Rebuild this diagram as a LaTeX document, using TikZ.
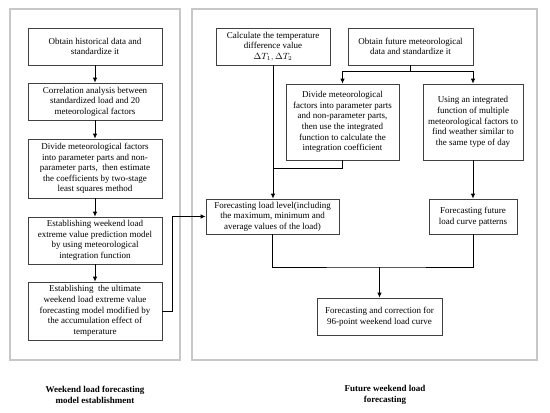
\documentclass[tikz,border=0pt]{standalone}
\usepackage{fontspec}
\setmainfont{Liberation Serif}
\usetikzlibrary{arrows.meta}
\begin{document}
\begin{tikzpicture}[x=1pt,y=-1pt,
  every node/.style={font=\fontsize{9}{10.6}\selectfont},
  box/.style={draw=black!75,line width=0.7pt,align=center,inner sep=0pt,minimum width=#1},
  panel/.style={draw=black!22,line width=1.4pt},
  conn/.style={line width=0.9pt,black},
  arr/.style={conn,-{Latex[length=5pt,width=4.5pt]}},
  captext/.style={align=center,font=\fontsize{9}{10.6}\selectfont\bfseries}]
\useasboundingbox (0,0) rectangle (550,413);
% panels
\draw[panel] (10,9) rectangle (180,360);
\draw[panel] (192,9) rectangle (537,360);
% left boxes
\node[box=134pt,minimum height=37pt] (b1) at (95,46.5) {Obtain historical data and\\standardize it};
\node[box=134pt,minimum height=37pt] (b2) at (95,101.5) {Correlation analysis between\\standardized load and 20\\meteorological factors};
\node[box=134pt,minimum height=59pt] (b3) at (95,168.5) {Divide meteorological factors\\into parameter parts and non-\\parameter parts,~~then estimate\\the coefficients by two-stage\\least squares method};
\node[box=134pt,minimum height=47pt] (b4) at (95,240.5) {Establishing weekend load\\extreme value prediction model\\by using meteorological\\integration function};
\node[box=134pt,minimum height=58pt] (b5) at (95,311) {Establishing~ the ultimate\\weekend load extreme value\\forecasting model modified by\\the accumulation effect of\\temperature};
% right boxes
\node[box=114pt,minimum height=37pt] (calc) at (273,46.5) {Calculate the temperature\\difference value\\$\Delta T_1,\Delta T_2$};
\node[box=125pt,minimum height=37pt] (obt) at (410.5,46.5) {Obtain future meteorological\\data and standardize it};
\node[box=113pt,minimum height=76pt] (div) at (342.5,122) {Divide meteorological\\factors into parameter parts\\and non-parameter parts,\\then use the integrated\\function to calculate the\\integration coefficient};
\node[box=100pt,minimum height=76pt] (use) at (473,122) {Using an integrated\\function of multiple\\meteorological factors to\\find weather similar to\\the same type of day};
\node[box=133pt,minimum height=35pt] (lev) at (272.5,216.5) {Forecasting load level(including\\the maximum, minimum and\\average values of the load)};
\node[box=88pt,minimum height=35pt] (fut) at (473,216.5) {Forecasting future\\load curve patterns};
\node[box=125pt,minimum height=37pt] (fin) at (379.5,316.5) {Forecasting and correction for\\96-point weekend load curve};
% captions
\node[captext] (c1) at (95,395) {Weekend load forecasting\\model establishment};
\node[captext] (c2) at (385,395) {Future weekend load\\forecasting};
% left arrows
\draw[arr] (b1) -- (b2);
\draw[arr] (b2) -- (b3);
\draw[arr] (b3) -- (b4);
\draw[arr] (b4) -- (b5);
\draw[arr] (b5.east) -- ++(10,0) |- (lev.west);
% right connectors
\draw[arr] (calc.south) -- (calc.south |- lev.north);
\coordinate (j) at (calc.south |- 0,168);
\draw[conn] (div.south) |- (j);
\draw[conn] (obt.south) -- ++(0,6) coordinate (br);
\draw[arr] (br) -| (div.north);
\draw[arr] (br) -| (use.north);
\draw[arr] (use) -- (fut);
\coordinate (m) at (fin.north |- 0,267);
\draw[conn] (lev.south) |- (m) -| (fut.south);
\draw[arr] (m) -- (fin.north);
\end{tikzpicture}
\end{document}
